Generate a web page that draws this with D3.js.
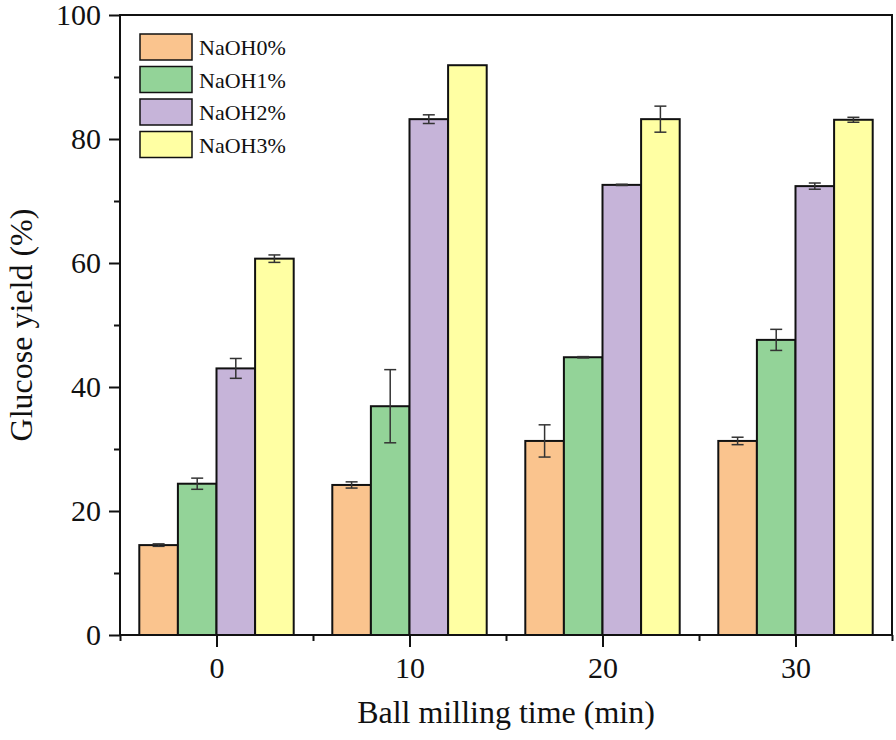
<!DOCTYPE html>
<html>
<head>
<meta charset="utf-8">
<script src="https://cdn.jsdelivr.net/npm/d3@7"></script>
<style>
body { margin: 0; background: #fff; }
text { font-family: "Liberation Serif", "Times New Roman", serif; fill: #111; }
</style>
</head>
<body>
<div id="chart"></div>
<script>
// data
var times = [0, 10, 20, 30];
var seriesNames = ["NaOH0%", "NaOH1%", "NaOH2%", "NaOH3%"];
var naoh0 = [14.5, 24.2, 31.3, 31.3];
var naoh1 = [24.4, 36.9, 44.8, 47.6];
var naoh2 = [43.0, 83.2, 72.6, 72.4];
var naoh3 = [60.7, 91.9, 83.2, 83.1];
var err0 = [0.2, 0.5, 2.6, 0.6];
var err1 = [0.9, 5.9, 0.1, 1.7];
var err2 = [1.6, 0.7, 0.1, 0.5];
var err3 = [0.6, 0, 2.1, 0.4];
var colors = ["#FAC48E", "#93D398", "#C6B4D9", "#FFFFA3"];
var yTicks = [0, 20, 40, 60, 80, 100];

var w = 896, h = 740,
    m = {left: 120, right: 4, top: 15, bottom: 105};

var svg = d3.select("#chart").append("svg")
  .attr("width", w).attr("height", h);

var x = d3.scaleLinear().domain([-5, 35]).range([m.left, w - m.right]);
var y = d3.scaleLinear().domain([0, 100]).range([h - m.bottom, m.top]);
var groupW = (x(10) - x(0)) * 0.8;
var x1 = d3.scaleBand().domain(d3.range(4)).range([-groupW / 2, groupW / 2]);

var vals = [naoh0, naoh1, naoh2, naoh3];
var errs = [err0, err1, err2, err3];
var rows = [];
vals.forEach(function(s, i){
  s.forEach(function(v, j){
    rows.push({s: i, t: times[j], v: v, e: errs[i][j]});
  });
});

// bars
svg.append("g").selectAll("rect").data(rows).enter().append("rect")
  .attr("x", function(d){ return x(d.t) + x1(d.s); })
  .attr("width", x1.bandwidth())
  .attr("y", function(d){ return y(d.v); })
  .attr("height", function(d){ return y(0) - y(d.v); })
  .attr("fill", function(d){ return colors[d.s]; })
  .attr("stroke", "#111").attr("stroke-width", 2);

// error bars
var eb = svg.append("g").attr("stroke", "#333").attr("stroke-width", 1.5)
  .selectAll("g").data(rows.filter(function(d){ return d.e > 0; })).enter().append("g")
  .attr("transform", function(d){ return "translate(" + (x(d.t) + x1(d.s) + x1.bandwidth() / 2) + ",0)"; });
eb.append("line").attr("y1", function(d){ return y(d.v + d.e); }).attr("y2", function(d){ return y(d.v - d.e); });
eb.append("line").attr("x1", -6).attr("x2", 6)
  .attr("y1", function(d){ return y(d.v + d.e); }).attr("y2", function(d){ return y(d.v + d.e); });
eb.append("line").attr("x1", -6).attr("x2", 6)
  .attr("y1", function(d){ return y(d.v - d.e); }).attr("y2", function(d){ return y(d.v - d.e); });

// frame
svg.append("rect")
  .attr("x", x(-5)).attr("y", y(100))
  .attr("width", x(35) - x(-5)).attr("height", y(0) - y(100))
  .attr("fill", "none").attr("stroke", "#111").attr("stroke-width", 2);

// x axis
svg.append("g").attr("transform", "translate(0," + y(0) + ")")
  .call(d3.axisBottom(x).tickValues(times).tickSize(12).tickPadding(10).tickFormat(d3.format("d")));
svg.append("g").attr("transform", "translate(0," + y(0) + ")")
  .call(d3.axisBottom(x).tickValues([-5, 5, 15, 25, 35]).tickSize(6).tickFormat(""));

// y axis
svg.append("g").attr("transform", "translate(" + x(-5) + ",0)")
  .call(d3.axisLeft(y).tickValues(yTicks).tickSize(11).tickPadding(8));
svg.append("g").attr("transform", "translate(" + x(-5) + ",0)")
  .call(d3.axisLeft(y).tickValues([10, 30, 50, 70, 90]).tickSize(6).tickFormat(""));

svg.selectAll(".domain").remove();
svg.selectAll(".tick line").attr("stroke", "#111").attr("stroke-width", 2);
svg.selectAll(".tick text").style("font-size", "30px")
  .style("font-family", "'Liberation Serif', 'Times New Roman', serif").attr("fill", "#111");

// axis titles
svg.append("text")
  .attr("x", (x(-5) + x(35)) / 2).attr("y", 723)
  .attr("text-anchor", "middle").style("font-size", "32px")
  .text("Ball milling time (min)");
svg.append("text")
  .attr("transform", "translate(32," + ((y(0) + y(100)) / 2) + ") rotate(-90)")
  .attr("text-anchor", "middle").style("font-size", "32px")
  .text("Glucose yield (%)");

// legend
var leg = svg.append("g").selectAll("g").data(seriesNames).enter().append("g")
  .attr("transform", function(d, i){ return "translate(140," + (34 + i * 32.5) + ")"; });
leg.append("rect").attr("width", 52).attr("height", 26)
  .attr("fill", function(d, i){ return colors[i]; })
  .attr("stroke", "#111").attr("stroke-width", 1.5);
leg.append("text").attr("x", 59).attr("y", 21)
  .style("font-size", "22px").text(function(d){ return d; });
</script>
</body>
</html>
